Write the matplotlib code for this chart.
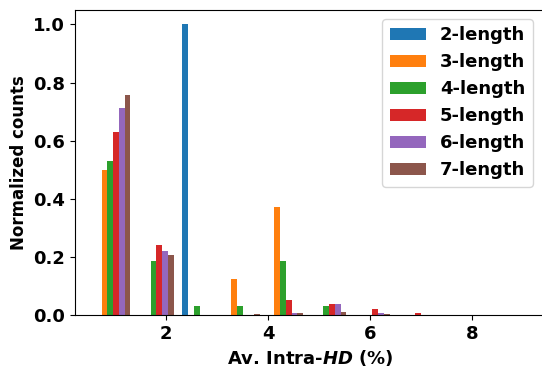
import numpy as np
import matplotlib
matplotlib.use("Agg")
from matplotlib import pyplot as plt

# bin edges of the histogram (Av. Intra-HD in %)
bin_lo = 0.54
bin_hi = 9.0
n_bins = 10

labels = ['2-length', '3-length', '4-length', '5-length', '6-length', '7-length']

# normalized counts per bin
len2 = [0.0, 0.0, 1.0, 0.0, 0.0, 0.0, 0.0, 0.0, 0.0, 0.0]
len3 = [0.50, 0.0, 0.0, 0.124, 0.372, 0.0, 0.0, 0.0, 0.0, 0.0]
len4 = [0.531, 0.186, 0.031, 0.031, 0.186, 0.031, 0.0, 0.0, 0.0, 0.0]
len5 = [0.631, 0.241, 0.0, 0.0, 0.052, 0.038, 0.021, 0.007, 0.0, 0.0]
len6 = [0.714, 0.221, 0.0, 0.0, 0.007, 0.038, 0.007, 0.0, 0.0, 0.0]
len7 = [0.759, 0.207, 0.0, 0.004, 0.007, 0.010, 0.003, 0.0, 0.0, 0.0]

edges = np.linspace(bin_lo, bin_hi, n_bins + 1)
centers = (edges[:-1] + edges[1:]) / 2
series = [len2, len3, len4, len5, len6, len7]

plt.rcParams['font.weight'] = 'bold'
plt.rcParams['axes.labelweight'] = 'bold'

fig = plt.figure(figsize=(5.42, 3.69), dpi=100)
ax = fig.add_subplot(111)
fig.subplots_adjust(left=0.138, right=1.008, top=0.973, bottom=0.146)

ax.hist([centers] * len(series), bins=edges, weights=series, label=labels)

ax.set_xlim(0.21, 9.45)
ax.set_xlabel('Av. Intra-$\\boldsymbol{HD}$ (%)', fontsize=13)
ax.set_ylabel('Normalized counts', fontsize=12)
ax.tick_params(labelsize=13)
ax.set_yticks([0.0, 0.2, 0.4, 0.6, 0.8, 1.0])
ax.set_xticks([2, 4, 6, 8])
ax.legend(loc='upper right', fontsize=13, bbox_to_anchor=(0.99, 1.0))

plt.savefig('out.png', dpi=100)
